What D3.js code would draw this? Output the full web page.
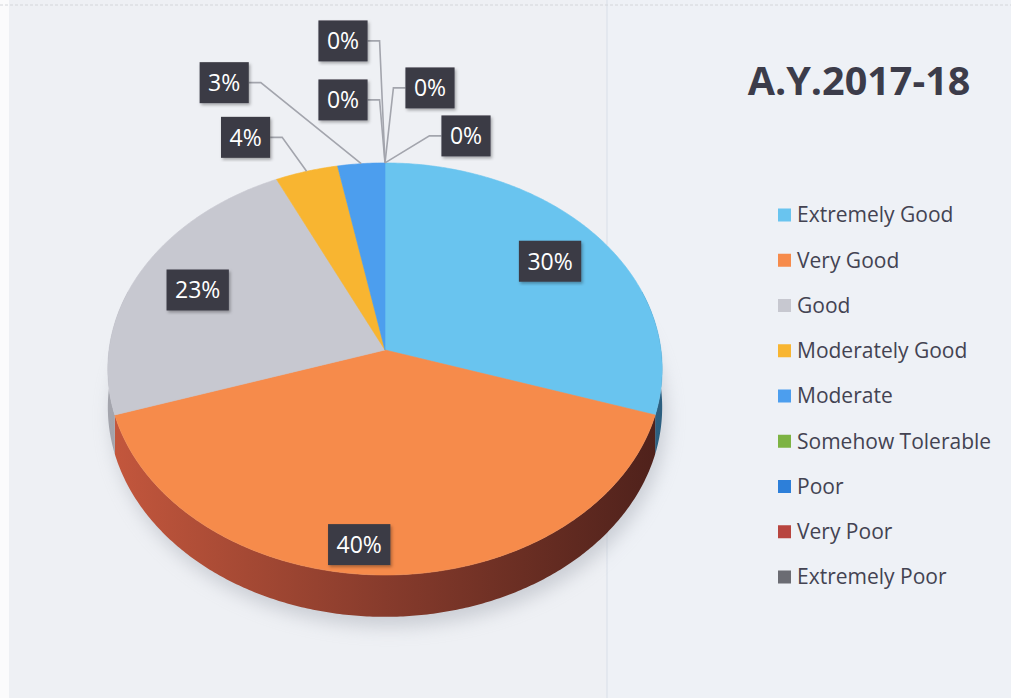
<!DOCTYPE html>
<html>
<head>
<meta charset="utf-8">
<script src="https://cdn.jsdelivr.net/npm/d3@7"></script>
<style>
  body { margin: 0; background: #eef0f4; }
  svg { display: block; font-family: "Open Sans", sans-serif; }
</style>
</head>
<body>
<div id="chart"></div>
<script>
// Data
const categories = ["Extremely Good", "Very Good", "Good", "Moderately Good", "Moderate",
    "Somehow Tolerable", "Poor", "Very Poor", "Extremely Poor"];
const percents = [30, 40, 23, 4, 3, 0, 0, 0, 0];
const chartTitle = "A.Y.2017-18";

// Colours: top faces and side walls (light / dark end)
const colors = ["#69c4ef", "#f68b4b", "#c7c8d0", "#f8b531", "#4c9eee",
    "#7db343", "#2d7fd9", "#b8453f", "#6b6c73"];
const sideLight = ["#4f93bd", "#c4573d", "#a4a5ad", "#c98d20", "#3b7cc0",
    "#5e8a30", "#2263a8", "#8c332f", "#505158"];
const sideDark = ["#2c5f80", "#4e211b", "#6d6e76", "#7a5512", "#24507c",
    "#3b571e", "#163f6c", "#5a201d", "#33343a"];

// Label layout: inside labels use radius fraction + angle nudge (deg),
// outside labels use box offset from the rim anchor
const labelLayout = [
    {inside: true, r: 0.77, da: 0},
    {inside: true, r: 0.88, da: 5.6},
    {inside: true, r: 0.76, da: 0},
    {inside: false, dx: -61, dy: -34},
    {inside: false, dx: -137, dy: -81},
    {inside: false, dx: 81, dy: -27},
    {inside: false, dx: 45, dy: -75},
    {inside: false, dx: -42, dy: -63},
    {inside: false, dx: -42, dy: -122}
];

let svgWidth = 1011;
let svgHeight = 698;

// pie geometry (perspective tilted disc)
let cx = 385, cy = 350;
let R = 276, A = 204.3, depth = 38, k = 0.092;

let svg = d3.select("#chart")
    .append("svg")
    .attr("width", svgWidth)
    .attr("height", svgHeight);

let defs = svg.append("defs");
defs.append("filter").attr("id", "blur")
    .attr("x", "-20%").attr("y", "-20%").attr("width", "140%").attr("height", "140%")
    .append("feGaussianBlur").attr("stdDeviation", 9);
defs.append("filter").attr("id", "boxShadow")
    .append("feDropShadow")
    .attr("dx", 1.5).attr("dy", 2).attr("stdDeviation", 1.5)
    .attr("flood-color", "#000").attr("flood-opacity", 0.3);

// background
svg.append("rect").attr("width", svgWidth).attr("height", svgHeight).attr("fill", "#eef0f4");
svg.append("rect").attr("x", 607).attr("width", svgWidth - 607).attr("height", svgHeight).attr("fill", "#eef1f6");
svg.append("line").attr("x1", 607).attr("x2", 607).attr("y1", 0).attr("y2", svgHeight)
    .attr("stroke", "#dfe4ec").attr("stroke-width", 1.5);
svg.append("rect").attr("width", 9).attr("height", svgHeight).attr("fill", "#fbfbfc");
svg.append("line").attr("x1", 0).attr("x2", svgWidth).attr("y1", 5).attr("y2", 5)
    .attr("stroke", "#d4d6da").attr("stroke-width", 1).attr("stroke-dasharray", "3,2");

// projection of an angle (radians, clockwise from 12 o'clock) on the disc
function project(theta, r, drop) {
    let u = Math.sin(theta) * r;
    let v = -Math.cos(theta) * r;
    let s = 1 / (1 - k * v);
    return [cx + R * u * s, cy + A * v * s + depth * s * drop];
}

function arcPoints(a0, a1, r, drop) {
    let n = Math.max(2, Math.ceil(Math.abs(a1 - a0) / 0.01));
    return d3.range(n + 1).map(i => project(a0 + (a1 - a0) * i / n, r, drop));
}

let pie = d3.pie().sort(null).value(d => d);
let arcs = pie(percents);
let line = d3.line();

let chartGroup = svg.append("g");

// soft shadow below the pie
let shadowPts = arcPoints(0, 2 * Math.PI, 1, 1).map(p => [p[0] + 4, p[1] + 10]);
chartGroup.append("path")
    .attr("d", line(shadowPts) + "Z")
    .attr("fill", "#aeb2bb")
    .attr("opacity", 0.55)
    .attr("filter", "url(#blur)");

// side wall gradients, light on the left, dark on the right
categories.forEach((c, i) => {
    let grad = defs.append("linearGradient")
        .attr("id", "wall" + i)
        .attr("gradientUnits", "userSpaceOnUse")
        .attr("x1", cx - R).attr("x2", cx + R)
        .attr("y1", 0).attr("y2", 0);
    d3.range(0, 1.01, 0.25).forEach(t => {
        grad.append("stop")
            .attr("offset", t)
            .attr("stop-color", d3.interpolateLab(sideLight[i], sideDark[i])(t));
    });
});

// side walls (front part only; the back is hidden by the top face)
let wallGroup = chartGroup.append("g");
arcs.forEach((a, i) => {
    if (a.endAngle - a.startAngle <= 0) return;
    let lim0 = Math.PI / 2 - 0.3, lim1 = 1.5 * Math.PI + 0.3;
    let t0 = Math.max(a.startAngle, lim0), t1 = Math.min(a.endAngle, lim1);
    if (t1 <= t0) return;
    let top = arcPoints(t0, t1, 1, 0);
    let bottom = arcPoints(t0, t1, 1, 1).reverse();
    wallGroup.append("path")
        .attr("d", line(top.concat(bottom)) + "Z")
        .attr("fill", `url(#wall${i})`);
});

// top faces
chartGroup.append("g")
    .selectAll("path")
    .data(arcs.filter(a => a.endAngle > a.startAngle))
    .join("path")
    .attr("d", a => line([[cx, cy]].concat(arcPoints(a.startAngle, a.endAngle, 1, 0))) + "Z")
    .attr("fill", a => colors[a.index])
    .attr("stroke", a => colors[a.index])
    .attr("stroke-width", 0.6);

// data labels
let labelGroup = svg.append("g");
arcs.forEach((a, i) => {
    let lay = labelLayout[i];
    let mid = (a.startAngle + a.endAngle) / 2;
    let text = d3.format(".0%")(percents[i] / 100);
    let bx, by;
    let anchor = project(mid, 1, 0);
    if (lay.inside) {
        [bx, by] = project(mid + lay.da * Math.PI / 180, lay.r, 0);
    } else {
        bx = anchor[0] + lay.dx;
        by = anchor[1] + lay.dy;
    }
    let g = labelGroup.append("g");
    let t = g.append("text")
        .attr("x", bx).attr("y", by)
        .attr("dy", "0.36em")
        .attr("text-anchor", "middle")
        .attr("fill", "#ffffff")
        .attr("font-size", 23)
        .text(text);
    let w = t.node().getComputedTextLength() + 17;
    let h = 41;
    g.insert("rect", "text")
        .attr("x", bx - w / 2).attr("y", by - h / 2)
        .attr("width", w).attr("height", h)
        .attr("fill", "#3b3a45")
        .attr("filter", "url(#boxShadow)");
    if (!lay.inside) {
        let side = lay.dx < 0 ? 1 : -1;
        let edgeX = bx + side * w / 2;
        let elbowX = edgeX + side * 12;
        labelGroup.insert("path", "g")
            .attr("d", line([[edgeX, by], [elbowX, by], anchor]))
            .attr("fill", "none")
            .attr("stroke", "#a3a5ad")
            .attr("stroke-width", 1.6);
    }
});

// title
svg.append("text")
    .attr("x", 859).attr("y", 95)
    .attr("text-anchor", "middle")
    .attr("font-size", 39.5)
    .attr("font-weight", "bold")
    .attr("fill", "#3c3c4a")
    .text(chartTitle);

// legend
let legendY = d3.scalePoint().domain(categories).range([215, 577]);
let legend = svg.append("g")
    .selectAll("g")
    .data(categories)
    .join("g")
    .attr("transform", d => `translate(778, ${legendY(d)})`);

legend.append("rect")
    .attr("x", 0).attr("y", -6.5)
    .attr("width", 13).attr("height", 13)
    .attr("fill", (d, i) => colors[i]);

legend.append("text")
    .attr("x", 19).attr("dy", "0.35em")
    .attr("font-size", 21)
    .attr("fill", "#434352")
    .text(d => d);
</script>
</body>
</html>
